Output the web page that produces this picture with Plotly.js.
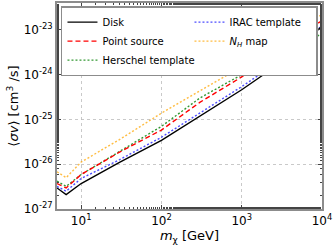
<!DOCTYPE html>
<html><head><meta charset="utf-8">
<script src="https://cdn.plot.ly/plotly-3.0.1.min.js"></script>
<style>html,body{margin:0;padding:0;background:#fff}#c{width:336px;height:252px}</style>
</head><body><div id="c"></div>
<script>
// DM mass [GeV]
const mass = [5, 6.5, 10, 30, 100, 300, 1000, 3000, 10000];
// <sigma v> upper limits [cm^3/s]
const disk     = [2.95e-27, 2.1e-27, 3.7e-27, 1.1e-26, 3.4e-26, 1.18e-25, 4.6e-25, 1.8e-24, 1.2e-23];
const irac     = [3.2e-27, 2.5e-27, 4.8e-27, 1.26e-26, 4.0e-26, 1.4e-25, 5.4e-25, 2.05e-24, 1.23e-23];
const point    = [3.7e-27, 2.95e-27, 5.9e-27, 1.86e-26, 5.8e-26, 2.4e-25, 8.9e-25, 3.8e-24, 1.62e-23];
const nhmap    = [6.8e-27, 5.0e-27, 1.12e-26, 3.55e-26, 1.38e-25, 4.3e-25, 1.5e-24, 5.75e-24, 2.2e-23];
const herschel = [4.2e-27, 3.2e-27, 5.9e-27, 1.95e-26, 7.0e-26, 3.0e-25, 1.0e-24, 2.35e-24, 8.3e-24];
const xTickVals = [10, 100, 1000, 10000];
const xTickText = ['10<sup>1</sup>', '10<sup>2</sup>', '10<sup>3</sup>', '10<sup>4</sup>'];
const yTickVals = [1e-27, 1e-26, 1e-25, 1e-24, 1e-23];
const yTickText = ['10<sup>-27</sup>', '10<sup>-26</sup>', '10<sup>-25</sup>', '10<sup>-24</sup>', '10<sup>-23</sup>'];
const names = ['Disk', 'IRAC template', 'Point source', '<i>N<sub>H</sub></i> map', 'Herschel template'];

const mk = (y, name, color, dash, rank) => ({
  x: mass, y: y, name: name, type: 'scatter', mode: 'lines',
  line: {color: color, width: 1.4, dash: dash}, legendrank: rank
});
const DOT = '2px,2px';
const traces = [
  mk(nhmap, names[3], 'rgba(255,165,0,0.75)', DOT, 4),
  mk(herschel, names[4], 'rgba(0,128,0,0.8)', DOT, 5),
  mk(point, names[2], '#ff0000', '5px,3px', 3),
  mk(irac, names[1], 'rgba(0,0,255,0.7)', DOT, 2),
  mk(disk, names[0], '#000000', 'solid', 1)
];
const axBase = {
  type: 'log', showline: true, linecolor: '#8c8c8c', linewidth: 2, mirror: 'ticks',
  ticks: 'inside', ticklen: 4, tickcolor: '#444', showgrid: true,
  gridcolor: '#bbb', griddash: 'dot', gridwidth: 0.8, zeroline: false,
  tickfont: {family: 'DejaVu Sans', size: 12, color: '#000'}
};
const layout = {
  width: 336, height: 252,
  margin: {l: 57, r: 14, t: 3, b: 43},
  paper_bgcolor: '#fff', plot_bgcolor: '#fff',
  font: {family: 'DejaVu Sans', color: '#000'},
  showlegend: true,
  xaxis: Object.assign({}, axBase, {
    range: [Math.log10(5), 4], tickvals: xTickVals, ticktext: xTickText,
    minor: {ticks: 'inside', ticklen: 2, tickcolor: '#444', showgrid: false},
    title: {text: '<i>m</i><sub>χ</sub> [GeV]', font: {size: 13}, standoff: 3}
  }),
  yaxis: Object.assign({}, axBase, {
    range: [-27, -22.4], tickvals: yTickVals, ticktext: yTickText,
    minor: {ticks: 'inside', ticklen: 2, tickcolor: '#444', showgrid: false},
    title: {text: '⟨<i>σv</i>⟩ [cm<sup>3</sup> /s]', font: {size: 13}, standoff: 2}
  }),
  legend: {
    x: 0.015, y: 0.985, xanchor: 'left', yanchor: 'top',
    orientation: 'h', entrywidth: 82, entrywidthmode: 'pixels',
    bgcolor: '#fff', bordercolor: '#8c8c8c', borderwidth: 1.5,
    font: {family: 'DejaVu Sans', size: 10, color: '#000'},
    itemwidth: 30, tracegroupgap: 0
  }
};
Plotly.newPlot('c', traces, layout, {staticPlot: true, displayModeBar: false});
</script></body></html>
